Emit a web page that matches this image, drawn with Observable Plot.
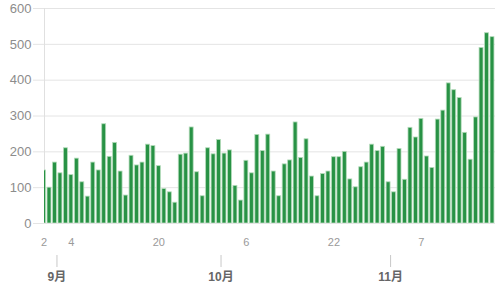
<!DOCTYPE html>
<html>
<head>
<meta charset="utf-8">
<script src="https://cdn.jsdelivr.net/npm/d3@7"></script>
<script src="https://cdn.jsdelivr.net/npm/@observablehq/plot@0.6"></script>
<style>
  html, body { margin: 0; padding: 0; background: #fff; }
  #chart { width: 500px; height: 292px; }
  svg { font-family: "Liberation Sans", Arial, "Noto Sans CJK SC", sans-serif; }
</style>
</head>
<body>
<div id="chart"></div>
<script>
// Daily values, by month (first date = 2020-08-30)
const augValues = [148, 100];
const sepValues = [170, 140, 210, 135, 181, 115, 75, 170, 148, 277, 186, 225, 145, 78, 189,
                   162, 170, 220, 216, 160, 96, 87, 58, 192, 195, 268, 143, 76, 210, 193];
const octValues = [233, 195, 204, 105, 64, 175, 140, 247, 202, 248, 145, 76, 165, 176, 282,
                   183, 235, 131, 76, 138, 145, 185, 185, 200, 123, 101, 157, 170, 220, 202, 214];
const novValues = [115, 87, 208, 122, 267, 240, 292, 187, 155, 290, 315, 391, 372, 350, 253,
                   178, 296, 490, 531, 520];

// Tick labels
const dayTickDates = ["2020-08-30", "2020-09-04", "2020-09-20", "2020-10-06", "2020-10-22", "2020-11-07"];
const dayTickLabels = ["2", "4", "20", "6", "22", "7"];
const monthTickDates = ["2020-09-01", "2020-10-01", "2020-11-01"];
const monthTickLabels = ["9月", "10月", "11月"];
const yTicks = [0, 100, 200, 300, 400, 500, 600];

const DAY = 864e5;
const start = Date.UTC(2020, 7, 30);
const allValues = [...augValues, ...sepValues, ...octValues, ...novValues];
const data = allValues.map((v, i) => ({date: new Date(start + i * DAY), value: v}));

const xDomain = [new Date(start + 0.586 * DAY), new Date(start + (82 + 1.05) * DAY)];
const mid = s => new Date(Date.parse(s) + DAY / 2);

const chart = Plot.plot({
  width: 500,
  height: 292,
  marginTop: 8,
  marginBottom: 69,
  marginLeft: 44,
  marginRight: 5,
  style: {fontFamily: '"Liberation Sans", Arial, "Noto Sans CJK SC", sans-serif', background: "#fff"},
  x: {type: "utc", domain: xDomain},
  y: {domain: [0, 600]},
  marks: [
    Plot.gridY(yTicks, {stroke: "#e4e4e4", strokeOpacity: 1}),
    Plot.axisY(yTicks, {tickSize: 11, stroke: "#e4e4e4", tickPadding: 2, fontSize: 13, color: "#8c8c8c", label: null}),
    Plot.ruleX([xDomain[0]], {y1: 0, y2: 600, stroke: "#e0e0e0"}),
    Plot.rectY(data, {
      x1: d => new Date(+d.date + 0.14 * DAY),
      x2: d => new Date(+d.date + 0.86 * DAY),
      y: "value",
      fill: "#289245",
      stroke: "#b3dbba",
      strokeWidth: 0.8,
      clip: true
    }),
    Plot.axisX(dayTickDates.map(mid), {
      tickSize: 0, tickPadding: 15, fontSize: 11, color: "#9a9a9a",
      tickFormat: (d, i) => dayTickLabels[i], label: null
    }),
    Plot.axisX(monthTickDates.map(mid), {
      tickSize: 12, dy: 32, dx: 2, tickPadding: 5, fontSize: 12, fontWeight: "bold",
      color: "#666", stroke: "#c8c8c8", strokeOpacity: 1, strokeWidth: 1,
      tickFormat: (d, i) => monthTickLabels[i], label: null
    })
  ]
});
document.getElementById("chart").append(chart);
</script>
</body>
</html>
